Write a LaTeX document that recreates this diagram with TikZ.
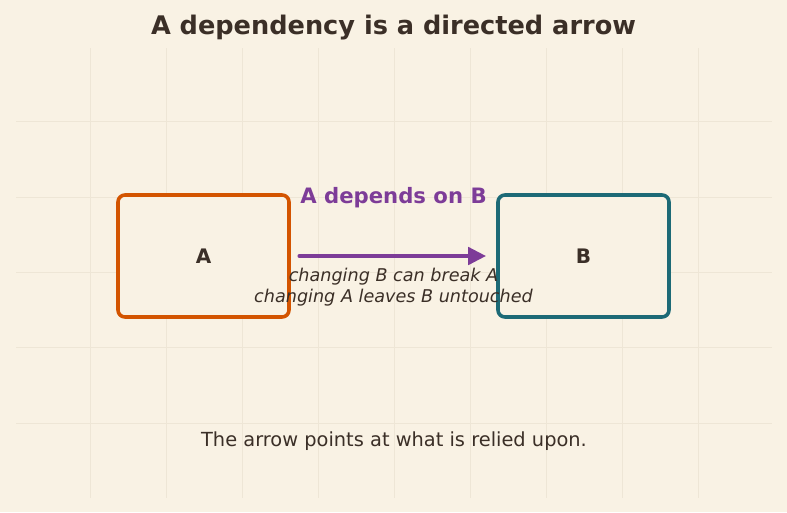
\documentclass[tikz,border=0pt]{standalone}
\usepackage{fontspec}
\setmainfont{DejaVu Sans}
\usetikzlibrary{arrows.meta}
\definecolor{bg}{HTML}{F9F2E4}
\definecolor{ink}{HTML}{3B2F27}
\definecolor{orangeA}{HTML}{D35400}
\definecolor{tealB}{HTML}{1D6A76}
\definecolor{purp}{HTML}{7D3C98}
\definecolor{gridc}{HTML}{EEE6D6}
\tikzset{
  box/.style={draw, line width=3.6pt, rounded corners=7pt, minimum width=171pt, minimum height=122pt, inner sep=0pt, fill=bg},
  boxlabel/.style={text=ink, font=\bfseries\fontsize{20}{24}\selectfont},
  gridline/.style={draw=gridc, line width=0.6pt},
}
\begin{document}
\begin{tikzpicture}[x=1pt,y=-1pt]
\fill[bg] (0,0) rectangle (787,512);
\useasboundingbox (0,0) rectangle (787,512);
% grid
\foreach \gx in {90.7,166.7,242.7,318.7,394.7,470.7,546.7,622.7,698.7}
  \draw[gridline] (\gx,48) -- (\gx,498);
\foreach \gy in {121.7,197,272.3,347.7,423.3}
  \draw[gridline] (16,\gy) -- (772,\gy);
% title
\node[text=ink, font=\bfseries\fontsize{25.6}{30}\selectfont] (title) at (393.5,27.5) {A dependency is a directed arrow};
% boxes
\node[box, draw=orangeA] (A) at (203.5,256) {};
\node[boxlabel] (Al) at (A.center) {A};
\node[box, draw=tealB] (B) at (583.5,256) {};
\node[boxlabel] (Bl) at (B.center) {B};
% arrow
\coordinate (s) at ([xshift=9pt]A.east);
\coordinate (e) at ([xshift=-10pt]B.west);
\draw[purp, line width=4.8pt, line cap=round, -{Triangle[length=18pt,width=17pt]}] (s) -- (e);
% labels
\node[text=purp, font=\bfseries\fontsize{21.2}{24}\selectfont] (dep) at (393.5,198) {A depends on B};
\node[text=ink, font=\itshape\fontsize{17.6}{21}\selectfont, align=center] (cap) at (393.5,287.5) {changing B can break A\\changing A leaves B untouched};
\node[text=ink, font=\fontsize{19.4}{23}\selectfont] (foot) at (394,441) {The arrow points at what is relied upon.};
\end{tikzpicture}
\end{document}
